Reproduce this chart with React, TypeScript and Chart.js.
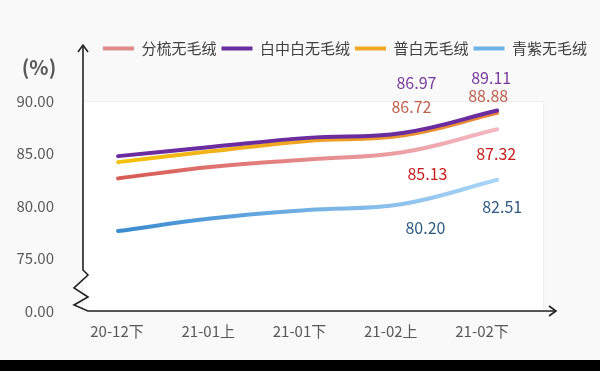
import React, { useEffect, useRef } from "react";
import { Chart, registerables } from "chart.js";
Chart.register(...registerables);

const categories = ["20-12下", "21-01上", "21-01下", "21-02上", "21-02下"];
const seriesNames = ["分梳无毛绒", "白中白无毛绒", "普白无毛绒", "青紫无毛绒"];
const fenShu = [82.64, 83.75, 84.45, 85.13, 87.32];
const baiZhongBai = [84.76, 85.65, 86.5, 86.97, 89.11];
const puBai = [84.19, 85.24, 86.2, 86.72, 88.88];
const qingZi = [77.62, 78.83, 79.62, 80.2, 82.51];
const yTicks = [70, 75, 80, 85, 90];
const yTickLabels = ["0.00", "75.00", "80.00", "85.00", "90.00"];
const labeledIndices = [3, 4];

const FONT = "'Noto Sans CJK SC', 'Noto Sans', sans-serif";
const gradStops = [
  ["#d65a52", "#f3b9c2"],
  ["#6a2c9e", "#6a2c9e"],
  ["#f4c20d", "#e8843a"],
  ["#3a8bd0", "#aad5f6"],
];
const legendColors = ["#e08a8a", "#6a2c9e", "#f2a922", "#6fb2e6"];
const labelColors = ["#c81e1e", "#7a3a9c", "#c0604e", "#2f5a82"];
const labelDx = [[25, -1], [14, -6], [9, -9], [23, 5]];
const labelDy = [[22, 25], [-50, -33], [-29, -17], [24, 27]];

const makeGrad = (c1: string, c2: string) => (ctx: any) => {
  const chart = ctx.chart;
  if (!chart.chartArea) return c1;
  const xs = chart.scales.x;
  const g = chart.ctx.createLinearGradient(xs.getPixelForValue(0), 0, xs.getPixelForValue(categories.length - 1), 0);
  g.addColorStop(0, c1);
  g.addColorStop(1, c2);
  return g;
};

const decorPlugin = {
  id: "decor",
  beforeDraw(chart: any) {
    const { ctx, width, height } = chart;
    const xs = chart.scales.x;
    const ys = chart.scales.y;
    ctx.save();
    ctx.fillStyle = "#f9f9f9";
    ctx.fillRect(0, 0, width, height);
    const l = chart.chartArea.left;
    const r = xs.getPixelForValue(4.485);
    const t = ys.getPixelForValue(90);
    const b = ys.getPixelForValue(70);
    ctx.fillStyle = "#ffffff";
    ctx.fillRect(l, t, r - l, b - t);
    ctx.strokeStyle = "#eeeeee";
    ctx.lineWidth = 1;
    ctx.strokeRect(l + 0.5, t + 0.5, r - l, b - t);
    ctx.restore();
  },
  afterDraw(chart: any) {
    const { ctx } = chart;
    const xs = chart.scales.x;
    const ys = chart.scales.y;
    const ax = chart.chartArea.left + 1;
    const by = ys.getPixelForValue(70);
    const topY = ys.getPixelForValue(95.35);
    const endX = xs.getPixelForValue(4.62);
    ctx.save();
    ctx.strokeStyle = "#222222";
    ctx.lineWidth = 1.6;
    ctx.lineJoin = "miter";
    ctx.beginPath();
    ctx.moveTo(ax, topY);
    ctx.lineTo(ax, by - 41);
    ctx.lineTo(ax + 5, by - 36);
    ctx.lineTo(ax - 9, by - 23);
    ctx.lineTo(ax + 5, by - 14);
    ctx.lineTo(ax - 9, by - 6);
    ctx.lineTo(ax + 5, by);
    ctx.lineTo(endX, by);
    ctx.stroke();
    // arrows
    ctx.beginPath();
    ctx.moveTo(ax - 5, topY + 7);
    ctx.lineTo(ax, topY);
    ctx.lineTo(ax + 5, topY + 7);
    ctx.moveTo(endX - 7, by - 5);
    ctx.lineTo(endX, by);
    ctx.lineTo(endX - 7, by + 5);
    ctx.stroke();
    // unit
    ctx.fillStyle = "#595959";
    ctx.font = "bold 20px " + FONT;
    ctx.textAlign = "center";
    ctx.textBaseline = "middle";
    ctx.fillText("(%)", 39, ys.getPixelForValue(93.2));
    // data labels
    ctx.font = "16px " + FONT;
    chart.data.datasets.forEach((ds: any, di: number) => {
      const meta = chart.getDatasetMeta(di);
      labeledIndices.forEach((idx, k) => {
        const pt = meta.data[idx];
        if (!pt) return;
        ctx.fillStyle = labelColors[di];
        ctx.fillText(ds.data[idx].y.toFixed(2), pt.x + labelDx[di][k], pt.y + labelDy[di][k]);
      });
    });
    ctx.restore();
  },
};

export default function App() {
  const ref = useRef<HTMLCanvasElement>(null);
  useEffect(() => {
    const series = [fenShu, baiZhongBai, puBai, qingZi];
    const chart = new Chart(ref.current!, {
      type: "line",
      data: {
        datasets: series.map((vals, i) => ({
          label: seriesNames[i],
          data: vals.map((v, j) => ({ x: j, y: v })),
          borderColor: makeGrad(gradStops[i][0], gradStops[i][1]),
          backgroundColor: legendColors[i],
          borderWidth: 4,
          borderCapStyle: "round",
          pointRadius: 0,
          pointHoverRadius: 0,
          tension: 0.4,
          fill: false,
          xAxisID: "x",
          yAxisID: "y",
        })),
      },
      options: {
        animation: false,
        responsive: false,
        maintainAspectRatio: false,
        layout: { padding: { top: 36, right: 8, left: 0, bottom: 0 } },
        plugins: {
          tooltip: { enabled: false },
          legend: {
            position: "top",
            align: "end",
            labels: {
              boxWidth: 31,
              boxHeight: 4,
              padding: 5,
              color: "#404040",
              font: { size: 15, family: FONT },
              generateLabels: (c: any) =>
                c.data.datasets.map((ds: any, i: number) => ({
                  text: ds.label,
                  fillStyle: legendColors[i],
                  strokeStyle: legendColors[i],
                  lineWidth: 0,
                  hidden: false,
                  datasetIndex: i,
                  fontColor: "#404040",
                })),
            },
          },
        },
        scales: {
          x: { type: "linear", display: false, min: -0.38, max: 5.0 },
          x2: {
            type: "linear",
            position: "bottom",
            min: -0.3836,
            max: 5.205,
            afterBuildTicks: (s: any) => {
              s.ticks = categories.map((_, i) => ({ value: i }));
            },
            afterFit: (s: any) => {
              s.height = 49;
            },
            grid: { display: false },
            border: { display: false },
            ticks: {
              padding: 3,
              color: "#595959",
              font: { size: 15, family: FONT },
              callback: (v: any) => categories[Math.round(Number(v))],
              maxRotation: 0,
              autoSkip: false,
            },
          },
          y: {
            type: "linear",
            min: 70,
            max: 93.35,
            afterBuildTicks: (s: any) => {
              s.ticks = yTicks.map((v) => ({ value: v }));
            },
            afterFit: (s: any) => {
              s.width = 82;
            },
            grid: { display: false },
            border: { display: false },
            ticks: {
              padding: 20,
              color: "#595959",
              font: { size: 15, family: FONT },
              callback: (v: any) => yTickLabels[yTicks.indexOf(Number(v))],
            },
          },
        },
      },
      plugins: [decorPlugin],
    } as any);
    return () => chart.destroy();
  }, []);
  return (
    <div style={{ position: "fixed", left: 0, top: 0, width: 600, height: 371, background: "#000" }}>
      <canvas ref={ref} width={600} height={360} style={{ display: "block", width: 600, height: 360 }} />
    </div>
  );
}
